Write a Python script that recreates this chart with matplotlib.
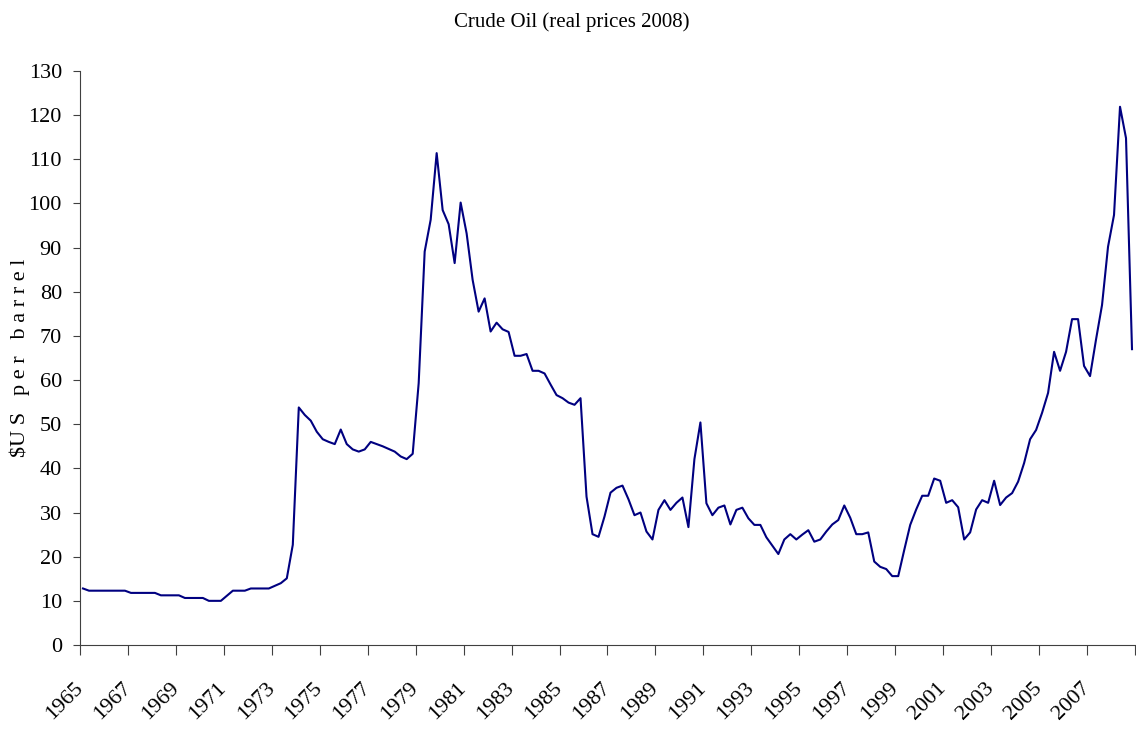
import numpy as np
import matplotlib
matplotlib.use("Agg")
import matplotlib.pyplot as plt

# quarterly real crude oil price, US$ (2008) per barrel, 1965Q1 - 2008Q4
price = [
    12.8, 12.3, 12.3, 12.3,     # 1965
    12.3, 12.3, 12.3, 12.3,     # 1966
    11.8, 11.8, 11.8, 11.8,     # 1967
    11.8, 11.25, 11.25, 11.25,  # 1968
    11.25, 10.65, 10.65, 10.65, # 1969
    10.65, 10.0, 10.0, 10.0,    # 1970
    11.15, 12.3, 12.3, 12.3,    # 1971
    12.8, 12.8, 12.8, 12.8,     # 1972
    13.4, 14.0, 15.1, 22.7,     # 1973
    53.8, 52.1, 50.8, 48.3,     # 1974
    46.6, 46.0, 45.5, 48.8,     # 1975
    45.5, 44.3, 43.8, 44.3,     # 1976
    46.0, 45.5, 45.0, 44.4,     # 1977
    43.8, 42.7, 42.1, 43.3,     # 1978
    59.3, 89.1, 96.3, 111.4,    # 1979
    98.5, 95.3, 86.5, 100.2,    # 1980
    93.2, 82.7, 75.5, 78.5,     # 1981
    71.0, 73.0, 71.5, 70.9,     # 1982
    65.5, 65.5, 65.9, 62.1,     # 1983
    62.1, 61.5, 59.0, 56.6,     # 1984
    55.9, 54.9, 54.4, 55.9,     # 1985
    33.6, 25.1, 24.5, 29.1,     # 1986
    34.5, 35.6, 36.1, 33.0,     # 1987
    29.4, 30.0, 25.7, 23.9,     # 1988
    30.6, 32.8, 30.6, 32.2,     # 1989
    33.4, 26.7, 42.1, 50.4,     # 1990
    32.1, 29.4, 31.1, 31.6,     # 1991
    27.3, 30.6, 31.1, 28.7,     # 1992
    27.2, 27.2, 24.4, 22.5,     # 1993
    20.6, 23.9, 25.1, 23.9,     # 1994
    25.0, 26.0, 23.4, 23.9,     # 1995
    25.7, 27.3, 28.3, 31.6,     # 1996
    28.8, 25.1, 25.1, 25.5,     # 1997
    18.9, 17.7, 17.2, 15.6,     # 1998
    15.6, 21.5, 27.2, 30.7,     # 1999
    33.8, 33.8, 37.7, 37.2,     # 2000
    32.2, 32.8, 31.2, 23.9,     # 2001
    25.5, 30.7, 32.8, 32.2,     # 2002
    37.2, 31.7, 33.4, 34.4,     # 2003
    37.0, 41.2, 46.6, 48.7,     # 2004
    52.6, 57.1, 66.4, 62.1,     # 2005
    66.4, 73.8, 73.8, 63.2,     # 2006
    60.9, 69.2, 77.0, 90.2,     # 2007
    97.4, 121.9, 114.8, 67.0,   # 2008
]
start_year = 1965
tick_years = list(range(1965, 2010, 2))
tick_labels = [str(y) for y in tick_years[:-1]] + [""]
y_ticks = list(range(0, 131, 10))

plt.rcParams['font.family'] = ['Liberation Serif', 'DejaVu Serif']

# each quarter plotted in the middle of its slot
q = np.arange(len(price))
x = start_year + (q + 0.5) / 4.0

fig = plt.figure(figsize=(11.36, 7.33), dpi=100)
ax = fig.add_axes([80/1136, 88/733, 1055/1136, 574/733])

ax.plot(x, price, color='#000080', lw=1.5)

ax.set_xlim(1965, 2009)
ax.set_ylim(0, 130)
ax.set_xticks(tick_years)
ax.set_xticklabels(tick_labels, rotation=45, ha='right', va='center',
                   rotation_mode='anchor', fontsize=16)
ax.set_yticks(y_ticks)
ax.tick_params(axis='y', labelsize=16, length=5, pad=8, color='#404040')
ax.tick_params(axis='x', length=7, pad=22, color='#404040')

for s in ['top', 'right']:
    ax.spines[s].set_visible(False)
for s in ['left', 'bottom']:
    ax.spines[s].set_color('#404040')

ax.set_ylabel(r"\$U S   p e r   b a r r e l", fontsize=16)
ax.yaxis.set_label_coords(-50/1055, 0.5)
fig.text(0.503, 1 - 22/733, "Crude Oil (real prices 2008)", ha='center',
         va='center', fontsize=15)

fig.savefig("out.png", dpi=100)
